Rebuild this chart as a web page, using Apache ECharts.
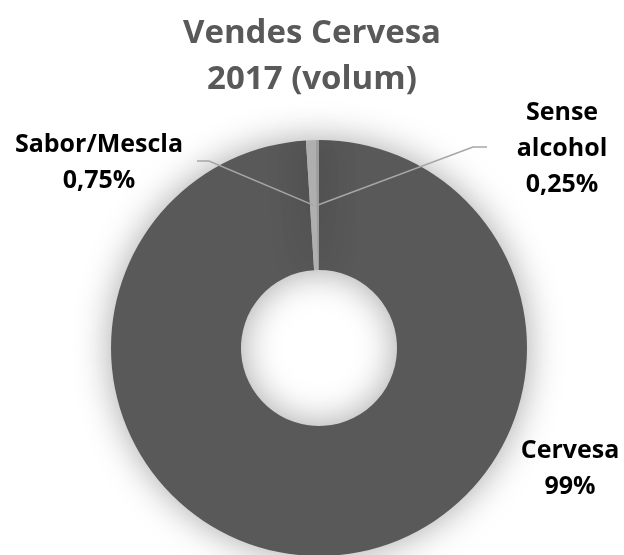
<!DOCTYPE html>
<html>
<head>
<meta charset="utf-8">
<script src="https://cdn.jsdelivr.net/npm/echarts@6/dist/echarts.min.js"></script>
<style>
  html, body { margin: 0; padding: 0; background: #fff; }
  #main { width: 624px; height: 555px; }
</style>
</head>
<body>
<div id="main"></div>
<script>
// dades
var categories = ['Cervesa', 'Sabor/Mescla', 'Sense alcohol'];
var values = [99, 0.75, 0.25];
var valueLabels = ['99%', '0,75%', '0,25%'];
var labelNames = ['Cervesa', 'Sabor/Mescla', 'Sense\nalcohol'];
var colors = ['#595959', '#b2b2b2', '#9e9e9e'];

var cx = 319, cy = 348;

// posicio de les etiquetes i de les linies guia
var labelPos = [
  { x: 570, y: 469 },
  { x: 99, y: 163 },
  { x: 562, y: 149 }
];
var lineEnds = [
  null,
  { elbow: [209, 161], end: [197, 161] },
  { elbow: [473, 147], end: [487, 147] }
];

var myChart = echarts.init(document.getElementById('main'));

var pieData = categories.map(function (c, i) {
  return { name: c, value: values[i], itemStyle: { color: colors[i] } };
});

var option = {
  backgroundColor: '#ffffff',
  title: {
    text: 'Vendes Cervesa\n2017 (volum)',
    left: 'center',
    top: 6,
    textStyle: {
      fontFamily: 'Open Sans',
      fontWeight: 'bold',
      fontSize: 33,
      lineHeight: 46,
      color: '#595959'
    }
  },
  series: [
    {
      // el donut
      type: 'pie',
      center: [cx, cy],
      radius: [78, 208],
      startAngle: 90,
      clockwise: true,
      silent: true,
      z: 2,
      itemStyle: {
        borderWidth: 0,
        shadowBlur: 36,
        shadowColor: 'rgba(0,0,0,0.35)'
      },
      label: { show: false },
      labelLine: { show: false },
      data: pieData
    },
    {
      // etiquetes i linies per sobre
      type: 'pie',
      center: [cx, cy],
      radius: [78, 208],
      startAngle: 90,
      clockwise: true,
      silent: true,
      z: 5,
      avoidLabelOverlap: false,
      itemStyle: { color: 'rgba(0,0,0,0)', borderWidth: 0 },
      label: {
        show: true,
        position: 'outside',
        fontFamily: 'Open Sans',
        fontWeight: 'bold',
        fontSize: 25,
        lineHeight: 36,
        color: '#000',
        align: 'center',
        formatter: function (p) {
          return labelNames[p.dataIndex] + '\n' + valueLabels[p.dataIndex];
        }
      },
      labelLine: {
        show: true,
        lineStyle: { color: '#a6a6a6', width: 1.5 }
      },
      labelLayout: function (params) {
        var i = params.dataIndex;
        var res = {
          x: labelPos[i].x,
          y: labelPos[i].y,
          align: 'center',
          verticalAlign: 'middle'
        };
        var pts = params.labelLinePoints;
        if (lineEnds[i] && pts) {
          var dx = pts[0][0] - cx, dy = pts[0][1] - cy;
          var d = Math.sqrt(dx * dx + dy * dy);
          var start = [cx + dx / d * 143, cy + dy / d * 143];
          res.labelLinePoints = [start, lineEnds[i].elbow, lineEnds[i].end];
        }
        return res;
      },
      data: categories.map(function (c, i) {
        var item = { name: c, value: values[i] };
        if (i === 0) item.labelLine = { show: false };
        return item;
      })
    }
  ]
};

myChart.setOption(option);
</script>
</body>
</html>
